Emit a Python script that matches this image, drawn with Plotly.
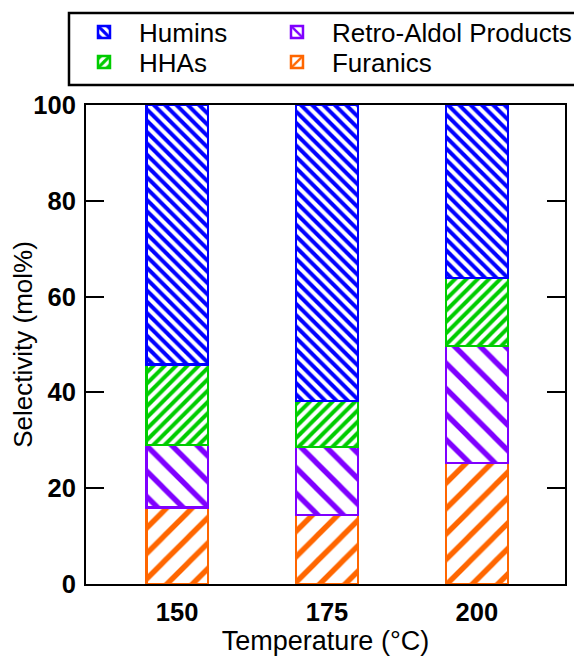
import plotly.graph_objects as go

temps = [150, 175, 200]
tick_labels = ["150", "175", "200"]
furanics = [16.0, 14.4, 25.3]
retro_aldol = [13.0, 14.2, 24.4]
hhas = [16.8, 9.6, 14.2]
humins = [54.2, 61.8, 36.1]

# name, values, colour, hatch, hatch size, solidity, legend id
series = [
    ("Furanics", furanics, "#FF6600", "/", 18, 0.3, "legend4"),
    ("Retro-Aldol Products", retro_aldol, "#7F00FF", "\\", 18, 0.3, "legend2"),
    ("HHAs", hhas, "#00CC00", "/", 8, 0.5, "legend3"),
    ("Humins", humins, "#0000FF", "\\", 8, 0.5, "legend"),
]

fig = go.Figure()
for name, vals, color, shape, size, sol, leg in series:
    fig.add_trace(go.Bar(
        x=temps, y=vals, name=name, width=10.3, legend=leg,
        marker=dict(color="white", line=dict(color=color, width=2.5),
                    pattern=dict(shape=shape, fgcolor=color, bgcolor="white",
                                 fgopacity=1, size=size, solidity=sol,
                                 fillmode="replace")),
    ))

font_family = "Arial, Liberation Sans, sans-serif"
leg_common = dict(xanchor="left", yanchor="middle", bgcolor="rgba(0,0,0,0)",
                  borderwidth=0, itemwidth=60, itemclick=False,
                  font=dict(size=26, family=font_family, color="black"))
col_x = [-0.0355, 0.3674]
row_y = [1.1524, 1.0898]

fig.update_layout(
    barmode="stack",
    width=574, height=651,
    margin=dict(l=78, r=17, t=97, b=75, autoexpand=False),
    plot_bgcolor="white", paper_bgcolor="white",
    font=dict(family=font_family, color="black"),
    showlegend=True,
    legend=dict(x=col_x[0], y=row_y[0], **leg_common),
    legend2=dict(x=col_x[1], y=row_y[0], **leg_common),
    legend3=dict(x=col_x[0], y=row_y[1], **leg_common),
    legend4=dict(x=col_x[1], y=row_y[1], **leg_common),
    shapes=[dict(type="rect", xref="paper", yref="paper",
                 x0=-0.0355, x1=1.0334, y0=1.0418, y1=1.1921,
                 line=dict(color="black", width=2.5), fillcolor="rgba(0,0,0,0)",
                 layer="above")],
    xaxis=dict(
        range=[134.8, 214.7], tickvals=temps, ticktext=tick_labels,
        showline=True, linecolor="black", linewidth=2, mirror=True,
        ticks="", showgrid=False, zeroline=False, ticklabelstandoff=4,
        tickfont=dict(size=25.5, family=font_family, weight="bold"),
        title=dict(text="Temperature (°C)", font=dict(size=27, family=font_family), standoff=4),
    ),
    yaxis=dict(
        range=[0, 100], tickvals=[0, 20, 40, 60, 80, 100],
        showline=True, linecolor="black", linewidth=2, mirror="ticks",
        ticks="inside", ticklen=18, tickwidth=2, tickcolor="black",
        showgrid=False, zeroline=False, ticklabelstandoff=3,
        tickfont=dict(size=25.5, family=font_family, weight="bold"),
        title=dict(text="Selectivity (mol%)", font=dict(size=26, family=font_family), standoff=1),
    ),
)

fig.write_html("out.html")
